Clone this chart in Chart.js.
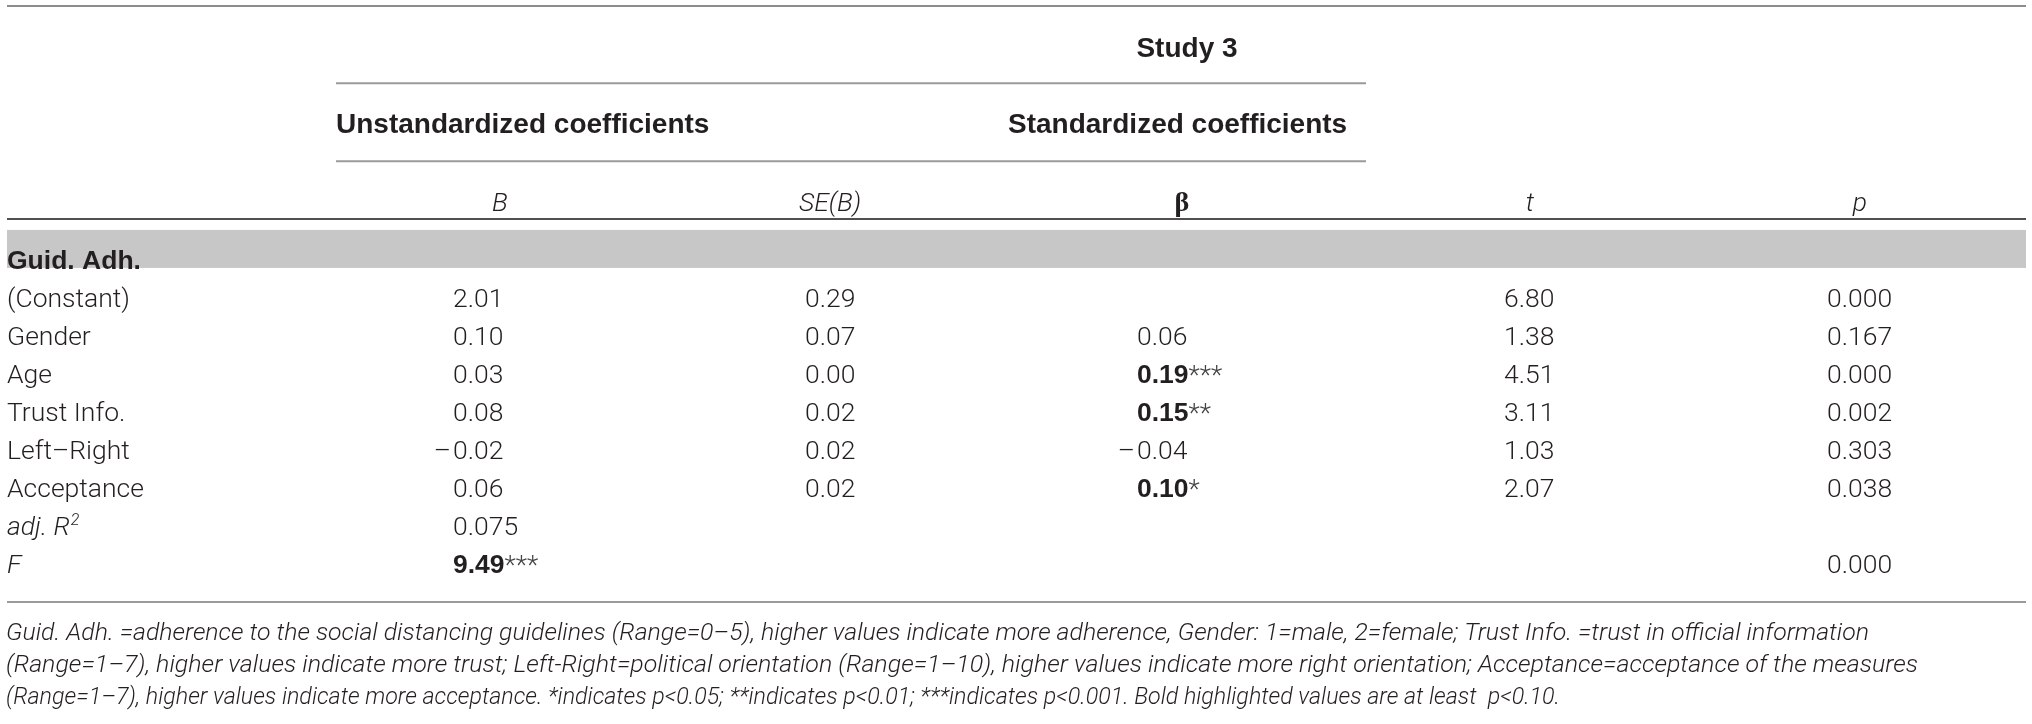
<!DOCTYPE html>
<html>
<head>
<meta charset="utf-8">
<script src="https://cdn.jsdelivr.net/npm/chart.js@4"></script>
<style>
  html, body { margin: 0; padding: 0; background: #fff; }
  canvas { display: block; }
</style>
</head>
<body>
<canvas id="tbl" width="2032" height="724"></canvas>
<script>
// table content
const groupLabel = "Guid. Adh.";
const rowLabels = ["(Constant)", "Gender", "Age", "Trust Info.", "Left–Right", "Acceptance", "adj. R2", "F"];
const colHeaders = ["B", "SE(B)", "β", "t", "p"];
const bValues = [2.01, 0.10, 0.03, 0.08, -0.02, 0.06, 0.075, 9.49];
const bStars = ["", "", "", "", "", "", "", "***"];
const seValues = [0.29, 0.07, 0.00, 0.02, 0.02, 0.02, null, null];
const betaValues = [null, 0.06, 0.19, 0.15, -0.04, 0.10, null, null];
const betaStars = ["", "", "***", "**", "", "*", "", ""];
const tValues = [6.80, 1.38, 4.51, 3.11, 1.03, 2.07, null, null];
const pValues = [0.000, 0.167, 0.000, 0.002, 0.303, 0.038, null, 0.000];
const footnote = [
  "Guid. Adh. =adherence to the social distancing guidelines (Range=0–5), higher values indicate more adherence, Gender: 1=male, 2=female; Trust Info. =trust in official information",
  "(Range=1–7), higher values indicate more trust; Left-Right=political orientation (Range=1–10), higher values indicate more right orientation; Acceptance=acceptance of the measures",
  "(Range=1–7), higher values indicate more acceptance. *indicates p<0.05; **indicates p<0.01; ***indicates p<0.001. Bold highlighted values are at least  p<0.10."
];

// layout (x in pixels, y in row units)
const colX = [7, 453, 805, 1137, 1504, 1827];
const headX = [500, 830, 1182, 1530, 1860];
const L = {
  left: 7, right: 2026, spanLeft: 336, spanRight: 1366, studyX: 1187, stdX: 1008,
  topRule: -6.92, studyY: -5.58, rule1: -4.89, groupY: -3.58, rule2: -2.84,
  headY: -1.53, headRule: -1.32, bandTop: -1.03, bandBottom: -0.03,
  bottomRule: 8.76, noteY: [9.76, 10.61, 11.45], noteW: [1863, 1912, 1554]
};

const LIGHT = '300 26.5px Roboto, "Liberation Sans", sans-serif';
const LIGHT_IT = 'italic 300 26.5px Roboto, "Liberation Sans", sans-serif';
const BOLD = 'bold 26.5px "Liberation Sans", Arial, sans-serif';
const HEAD_BOLD = 'bold 28px "Liberation Sans", Arial, sans-serif';
const NOTE = 'italic 300 23px Roboto, "Liberation Sans", sans-serif';
const INK = '#231f20';

function fmt(v, dec) {
  let s = v.toFixed(dec);
  if (Math.abs(v - parseFloat(s)) > 1e-9) s = v.toFixed(dec + 1);
  return s;
}

function column(values, stars, dec, col) {
  const pts = [];
  values.forEach((v, i) => {
    if (v === null) return;
    const st = stars ? stars[i] : "";
    pts.push({ x: colX[col], y: i + 1, text: fmt(v, dec), stars: st, bold: st !== "" });
  });
  return pts;
}

const labelPts = [{ x: colX[0], y: 0, text: groupLabel, label: true, bold: true }]
  .concat(rowLabels.map((t, i) => ({ x: colX[0], y: i + 1, text: t, label: true })));

const datasets = [
  { data: labelPts },
  { data: column(bValues, bStars, 2, 1) },
  { data: column(seValues, null, 2, 2) },
  { data: column(betaValues, betaStars, 2, 3) },
  { data: column(tValues, null, 2, 4) },
  { data: column(pValues, null, 3, 5) }
];

function hline(ctx, x1, x2, y, color) {
  ctx.strokeStyle = color;
  ctx.lineWidth = 2;
  ctx.beginPath();
  ctx.moveTo(x1, y);
  ctx.lineTo(x2, y);
  ctx.stroke();
}

const tablePlugin = {
  id: 'tablePlugin',
  beforeDatasetsDraw(chart) {
    const { ctx, scales: { x, y } } = chart;
    ctx.save();
    ctx.fillStyle = '#c6c7c6';
    const t = y.getPixelForValue(L.bandTop), b = y.getPixelForValue(L.bandBottom);
    ctx.fillRect(x.getPixelForValue(L.left), t, x.getPixelForValue(L.right) - x.getPixelForValue(L.left), b - t);
    hline(ctx, x.getPixelForValue(L.left), x.getPixelForValue(L.right), y.getPixelForValue(L.topRule), '#8c8c8c');
    hline(ctx, x.getPixelForValue(L.spanLeft), x.getPixelForValue(L.spanRight), y.getPixelForValue(L.rule1), '#9a9a9a');
    hline(ctx, x.getPixelForValue(L.spanLeft), x.getPixelForValue(L.spanRight), y.getPixelForValue(L.rule2), '#9a9a9a');
    hline(ctx, x.getPixelForValue(L.left), x.getPixelForValue(L.right), y.getPixelForValue(L.headRule), '#505050');
    hline(ctx, x.getPixelForValue(L.left), x.getPixelForValue(L.right), y.getPixelForValue(L.bottomRule), '#9a9a9a');
    ctx.restore();
  },
  afterDatasetsDraw(chart) {
    const { ctx, scales: { x, y } } = chart;
    ctx.save();
    ctx.fillStyle = INK;
    ctx.textBaseline = 'alphabetic';

    // spanning headers
    ctx.font = HEAD_BOLD;
    ctx.textAlign = 'center';
    ctx.fillText("Study 3", x.getPixelForValue(L.studyX), y.getPixelForValue(L.studyY));
    ctx.textAlign = 'left';
    ctx.fillText("Unstandardized coefficients", x.getPixelForValue(L.spanLeft), y.getPixelForValue(L.groupY));
    ctx.fillText("Standardized coefficients", x.getPixelForValue(L.stdX), y.getPixelForValue(L.groupY));

    // column headers
    ctx.textAlign = 'center';
    const hy = y.getPixelForValue(L.headY);
    colHeaders.forEach((h, i) => {
      ctx.font = h === "β" ? 'bold 28px "Liberation Serif", "DejaVu Serif", serif' : LIGHT_IT;
      ctx.fillText(h, x.getPixelForValue(headX[i]), hy);
    });

    // cells
    ctx.textAlign = 'left';
    chart.data.datasets.forEach((ds, d) => {
      const meta = chart.getDatasetMeta(d);
      meta.data.forEach((el, i) => {
        const pt = ds.data[i];
        let px = el.x;
        const py = el.y;
        if (pt.label) {
          if (pt.text === "adj. R2") {
            ctx.font = LIGHT_IT;
            ctx.fillText("adj. R", px, py);
            const w = ctx.measureText("adj. R").width;
            ctx.font = 'italic 300 16px Roboto, "Liberation Sans", sans-serif';
            ctx.fillText("2", px + w + 1, py - 10);
          } else {
            ctx.font = pt.bold ? BOLD : (pt.text === "F" ? LIGHT_IT : LIGHT);
            ctx.fillText(pt.text, px, py);
          }
          return;
        }
        let s = pt.text;
        ctx.font = pt.bold ? BOLD : LIGHT;
        if (s.startsWith('-')) {
          s = s.slice(1);
          ctx.textAlign = 'right';
          ctx.fillText('–', px - 2, py);
          ctx.textAlign = 'left';
        }
        ctx.fillText(s, px, py);
        if (pt.stars) {
          const w = ctx.measureText(s).width;
          ctx.font = LIGHT;
          ctx.fillStyle = '#444';
          ctx.fillText(pt.stars, px + w, py);
          ctx.fillStyle = INK;
        }
      });
    });

    // footnote, fitted to the measured line widths
    ctx.font = NOTE;
    footnote.forEach((line, i) => {
      const w = ctx.measureText(line).width;
      const px = x.getPixelForValue(L.left - 1);
      const py = y.getPixelForValue(L.noteY[i]);
      ctx.save();
      ctx.translate(px, py);
      ctx.scale(L.noteW[i] / w, 1);
      ctx.fillText(line, 0, 0);
      ctx.restore();
    });
    ctx.restore();
  }
};

new Chart(document.getElementById('tbl'), {
  type: 'scatter',
  data: { datasets: datasets },
  options: {
    responsive: false,
    devicePixelRatio: 1,
    animation: false,
    layout: { padding: 0 },
    elements: { point: { radius: 0, hoverRadius: 0 } },
    plugins: { legend: { display: false }, tooltip: { enabled: false } },
    scales: {
      x: { type: 'linear', min: 0, max: 2032, display: false },
      y: { type: 'linear', reverse: true, min: -7.08, max: 11.97, display: false }
    }
  },
  plugins: [tablePlugin]
});
</script>
</body>
</html>
